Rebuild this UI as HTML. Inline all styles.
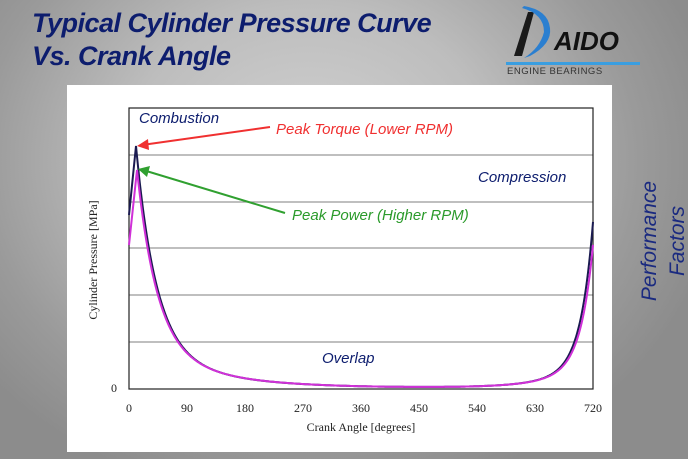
<!DOCTYPE html>
<html><head><meta charset="utf-8"><style>
html,body{margin:0;padding:0}
body{width:688px;height:459px;overflow:hidden;position:relative;font-family:"Liberation Sans",sans-serif;
background:radial-gradient(ellipse 60% 75% at 45% 35%,#d2d2d2 0%,#bdbdbd 45%,#9a9a9a 80%,#8c8c8c 100%);}
.t{position:absolute;left:32px;color:#0d1d6e;font-weight:bold;font-style:italic;font-size:27px;letter-spacing:-0.5px;}
</style></head><body>
<div class="t" style="top:8px">Typical Cylinder Pressure Curve</div>
<div class="t" style="top:41px">Vs. Crank Angle</div>
<svg style="position:absolute;left:500px;top:4px" width="150" height="72">
<polygon points="14,52 28,8 34,8 22,52" fill="#1a1a1a"/>
<path d="M22,4 Q44,10 44,28 Q40,44 24,54 L30,52 Q52,40 50,24 Q48,6 24,2 Z" fill="#2b7fd0"/>
<text x="54" y="46" font-family="Liberation Sans" font-weight="bold" font-style="italic" font-size="26" fill="#111">AIDO</text>
<rect x="6" y="58" width="134" height="3" fill="#3a9ee0"/>
<text x="7" y="70" font-family="Liberation Sans" font-size="9.5" fill="#333" letter-spacing="0.5">ENGINE BEARINGS</text>
</svg>
<div style="position:absolute;left:67px;top:85px;width:545px;height:367px;background:#fff"></div>
<svg style="position:absolute;left:0;top:0" width="688" height="459">
<g stroke="#999" stroke-width="1.2">
<line x1="129" y1="155" x2="593" y2="155"/><line x1="129" y1="202" x2="593" y2="202"/>
<line x1="129" y1="248" x2="593" y2="248"/><line x1="129" y1="295" x2="593" y2="295"/>
<line x1="129" y1="342" x2="593" y2="342"/></g>
<rect x="129" y="108" width="464" height="281" fill="none" stroke="#222" stroke-width="1.2"/>
<path id="pb" d="" fill="none" stroke="#1a1a50" stroke-width="2"/>
<path id="pm" d="" fill="none" stroke="#d030d8" stroke-width="2"/>
<line x1="270" y1="127" x2="142" y2="145" stroke="#f03030" stroke-width="2"/>
<polygon points="137,146 148,139 149,150" fill="#f03030"/>
<line x1="285" y1="213" x2="143" y2="170" stroke="#30a030" stroke-width="2"/>
<polygon points="138,169 150,166 147,177" fill="#30a030"/>
<g font-family="Liberation Serif" font-size="12" fill="#222" text-anchor="middle">
<text x="129" y="412">0</text><text x="187" y="412">90</text><text x="245" y="412">180</text>
<text x="303" y="412">270</text><text x="361" y="412">360</text><text x="419" y="412">450</text>
<text x="477" y="412">540</text><text x="535" y="412">630</text><text x="593" y="412">720</text>
<text x="114" y="392">0</text>
<text x="361" y="431">Crank Angle [degrees]</text>
<text transform="translate(97,260) rotate(-90)">Cylinder Pressure [MPa]</text>
</g>
<g font-family="Liberation Sans" font-style="italic" font-size="15">
<text x="139" y="123" fill="#0d1d6e">Combustion</text>
<text x="276" y="134" fill="#f03030">Peak Torque (Lower RPM)</text>
<text x="478" y="182" fill="#0d1d6e">Compression</text>
<text x="292" y="220" fill="#2a9a2a">Peak Power (Higher RPM)</text>
<text x="322" y="363" fill="#0d1d6e">Overlap</text>
</g>
<g font-family="Liberation Sans" font-style="italic" font-size="21" fill="#1a2a80" text-anchor="middle">
<text transform="translate(656,241) rotate(-90)">Performance</text>
<text transform="translate(684,241) rotate(-90)">Factors</text>
</g>
</svg>
<script>
function mk(y0,px,A1,A2,B1,B2){
 var d="M129,"+y0+" L"+px+","+(388-A1-A2);
 for(var x=px+1;x<=593;x+=1){
  var dl=x-px, dr=593-x;
  var h=A1*Math.exp(-dl/20)+A2*Math.exp(-dl/70)+B1*Math.exp(-dr/12)+B2*Math.exp(-dr/40);
  d+=" L"+x+","+(388-h).toFixed(1);
 }
 return d;
}
document.getElementById('pb').setAttribute('d',mk(215,136,200,42,140,26));
document.getElementById('pm').setAttribute('d',mk(245,137,176,42,117,26));
</script>
</body></html>
